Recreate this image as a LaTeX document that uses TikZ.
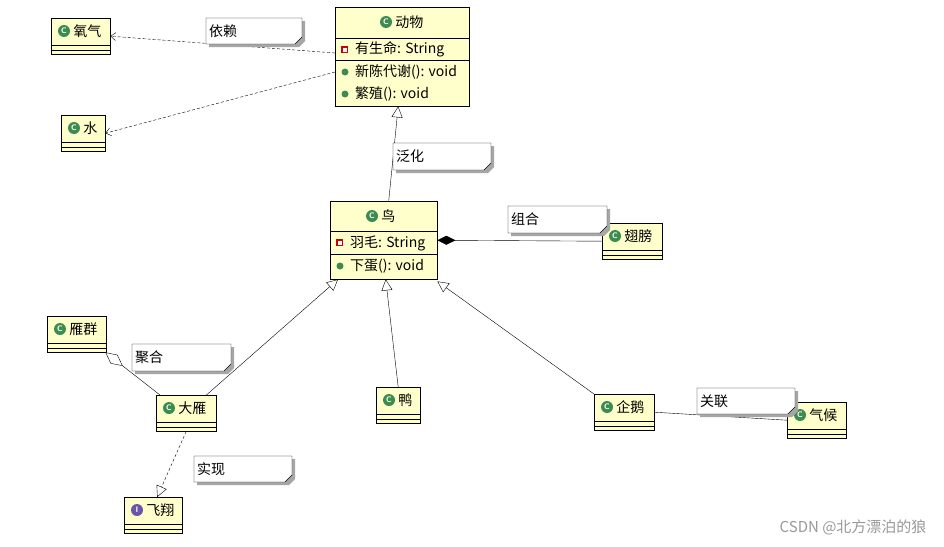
\documentclass[tikz,border=0pt]{standalone}
\usepackage{fontspec}
\newfontfamily\cn{Noto Sans CJK SC}
\usetikzlibrary{arrows.meta,calc}
\definecolor{umlyellow}{HTML}{FFFFCC}
\definecolor{icongreen}{HTML}{3C8C50}
\definecolor{iconpurple}{HTML}{6A55A8}
\tikzset{
  cls/.style={draw, fill=umlyellow, anchor=north west, inner sep=0pt},
  ico/.style={circle, fill=#1, text=white, font=\sffamily\bfseries\fontsize{8}{8}\selectfont, inner sep=0pt, minimum size=12pt},
  lbl/.style={font=\cn\fontsize{14}{16}\selectfont, inner sep=1pt},
  dep/.style={densely dashed, -{Straight Barb[length=5pt,width=8pt]}},
  gen/.style={-{Triangle[open,length=11pt,width=11pt]}},
  real/.style={densely dashed, -{Triangle[open,length=11pt,width=11pt]}}
}
% kleine Klasse: Name, x, y, Breite, Text, Farbe, Buchstabe
\newcommand\smallcls[7]{
  \node[cls, minimum width=#4pt, minimum height=36pt] (#1) at (#2,#3) {};
  \draw ([yshift=9pt]#1.south west) -- ([yshift=9pt]#1.south east);
  \draw ([yshift=4pt]#1.south west) -- ([yshift=4pt]#1.south east);
  \node[ico=#6] (#1-i) at ($(#1.north west)+(13,13)$) {#7};
  \node[lbl, anchor=west] at ([xshift=2pt]#1-i.east) {#5};
}
% Notiz mit Eselsohr
\newcommand\note[6]{
  \fill[gray!70] (#2+3,#3+3) -- (#4+3,#3+3) -- (#4+3,#5-3) -- (#4-3,#5+3) -- (#2+3,#5+3) -- cycle;
  \draw[fill=white] (#2,#3) -- (#4,#3) -- (#4,#5-7) -- (#4-7,#5) -- (#2,#5) -- cycle;
  \node[lbl, anchor=west] (#1) at (#2+2,{(#3+#5)/2}) {#6};
}
\begin{document}
\begin{tikzpicture}[x=1pt,y=-1pt]
\useasboundingbox[fill=white] (0,0) rectangle (944,546);

% Tier
\node[cls, minimum width=134pt, minimum height=99pt] (tier) at (335,7) {};
\draw (335,38) -- (469,38);
\draw (335,60) -- (469,60);
\node[ico=icongreen] (tier-i) at (386,22) {C};
\node[lbl, anchor=west] at ([xshift=2pt]tier-i.east) {动物};
\fill[red!80!black] (341,46) rectangle (348,53);
\fill[white] (342.5,47.5) rectangle (346.5,51.5);
\node[lbl, anchor=west] at (354,49) {有生命: String};
\fill[icongreen] (345,72) circle (3.5pt);
\node[lbl, anchor=west] at (354,72) {新陈代谢(): void};
\fill[icongreen] (345,94) circle (3.5pt);
\node[lbl, anchor=west] at (354,94) {繁殖(): void};

% Vogel
\node[cls, minimum width=107pt, minimum height=78pt] (vogel) at (330,201) {};
\draw (330,231) -- (437,231);
\draw (330,254) -- (437,254);
\node[ico=icongreen] (vogel-i) at (372,216) {C};
\node[lbl, anchor=west] at ([xshift=2pt]vogel-i.east) {鸟};
\fill[red!80!black] (336,239) rectangle (343,246);
\fill[white] (337.5,240.5) rectangle (341.5,244.5);
\node[lbl, anchor=west] at (349,243) {羽毛: String};
\fill[icongreen] (340,266) circle (3.5pt);
\node[lbl, anchor=west] at (349,266) {下蛋(): void};

% kleine Klassen
\smallcls{sauerstoff}{51}{18}{59}{氧气}{icongreen}{C}
\smallcls{wasser}{61}{115}{44}{水}{icongreen}{C}
\smallcls{fluegel}{602}{223}{60}{翅膀}{icongreen}{C}
\smallcls{schwarm}{47}{316}{59}{雁群}{icongreen}{C}
\smallcls{gans}{156}{395}{60}{大雁}{icongreen}{C}
\smallcls{ente}{376}{387}{44}{鸭}{icongreen}{C}
\smallcls{pinguin}{594}{394}{60}{企鹅}{icongreen}{C}
\smallcls{klima}{787}{402}{59}{气候}{icongreen}{C}
\smallcls{fliegen}{124}{497}{58}{飞翔}{iconpurple}{I}

% Verbindungen
\draw[dep] ($(tier.north west)+(0,46)$) -- (sauerstoff.east);
\draw[dep] ($(tier.north west)+(0,65)$) -- (wasser.east);
\draw[gen] ($(vogel.north)+(5,0)$) -- ($(tier.south)+(-4,0)$);
\draw[-{Diamond[length=18pt,width=9pt]}] (fluegel.west) -- (vogel.east);
\draw[gen] ($(gans.north east)+(-10,0)$) -- ($(vogel.south west)+(8,0)$);
\draw[gen] (ente.north) -- ($(vogel.south)+(2,0)$);
\draw[gen] (pinguin.north west) -- ($(vogel.south east)+(0,2)$);
\draw[-{Diamond[open,fill=white,length=22pt,width=11pt]}] ($(gans.north west)+(4,0)$) -- ($(schwarm.south east)+(-1,0)$);
\draw (pinguin.east) -- (klima.west);
\draw[real] (gans.south) -- ($(fliegen.north)+(4,0)$);

% Notizen
\note{n1}{206}{18}{302}{44}{依赖}
\note{n2}{393}{143}{491}{170}{泛化}
\note{n3}{508}{206}{607}{233}{组合}
\note{n4}{132}{344}{231}{371}{聚合}
\note{n5}{697}{388}{795}{414}{关联}
\note{n6}{194}{456}{292}{482}{实现}

\node[font=\cn\fontsize{15}{17}\selectfont, text=gray!80, anchor=east] (wm) at (930,527) {CSDN @北方漂泊的狼};
\end{tikzpicture}
\end{document}
